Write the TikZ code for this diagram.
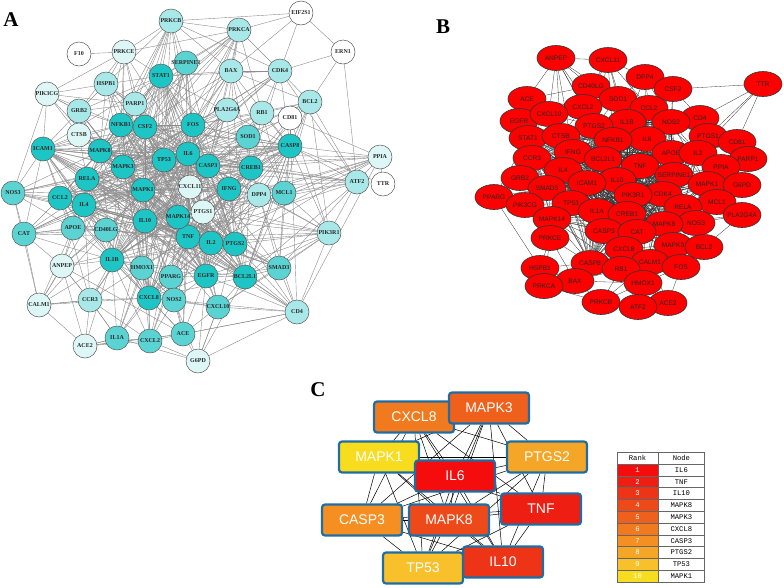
\documentclass[tikz,border=0pt]{standalone}
\usepackage{fontspec}
\setmainfont{Liberation Serif}
\newfontfamily\arialfam{Liberation Sans}
\newfontfamily\simfam{Liberation Mono}
\usepackage{tikz}
\usetikzlibrary{shapes, arrows}
\usetikzlibrary{positioning, backgrounds}
\definecolor{tq1}{HTML}{1EC5C5}
\definecolor{tq2}{HTML}{5CD3D3}
\definecolor{tq3}{HTML}{A8E8E8}
\definecolor{tq4}{HTML}{DDF6F6}
\definecolor{boxblue}{HTML}{1F6EA3}
\definecolor{rk1}{HTML}{F50C0C}
\definecolor{rk2}{HTML}{EE1E12}
\definecolor{rk3}{HTML}{EE3416}
\definecolor{rk4}{HTML}{EE4A19}
\definecolor{rk5}{HTML}{EF601C}
\definecolor{rk6}{HTML}{F17A1F}
\definecolor{rk7}{HTML}{F58F21}
\definecolor{rk8}{HTML}{F6A626}
\definecolor{rk9}{HTML}{F8C02A}
\definecolor{rk10}{HTML}{F8DC1E}
\tikzstyle{gene} = [circle, minimum size = 24, inner sep = 0, draw = black!65,
  line width = 0.5, text = black!85, font = \fontsize{6}{7}\selectfont\bfseries]
\tikzstyle{protein} = [
  ellipse, minimum width = 38, minimum height = 25, inner sep = 0,
  fill = red, draw = black!80, line width = 0.6,
  text = black!85, font = \arialfam\fontsize{6.6}{7}\selectfont
]
\tikzstyle{hub} = [
  rectangle, rounded corners = 3,
  minimum width = 80, minimum height = 31,
  draw = boxblue, line width = 2.2, text = white,
  font = \arialfam\fontsize{14}{15}\selectfont
]
\tikzstyle{cell} = [rectangle, minimum width = 41, minimum height = 11.8,
  inner sep = 0, draw = black!60, line width = 0.4,
  font = \simfam\fontsize{7.2}{8}\selectfont]
\tikzstyle{panel} = [font = \fontsize{21}{21}\selectfont\bfseries]
\tikzstyle{linkA} = [draw = black!45, line width = 0.4]
\tikzstyle{linkB} = [draw = black!80, line width = 0.3]
\tikzstyle{linkC} = [draw = black, line width = 0.5]
\def\hubsA{IL6,TNF,IL10,MAPK8,MAPK3,MAPK1,TP53,FOS,CASP3,STAT1,NFKB1,CSF2,RELA,CCL2,IL4,MAPK14,IL1B,CXCL8,IL2,EGFR,BCL2L1,CREB1,IFNG,CASP8,PTGS2,ICAM1}
\def\hubsB{IL6,TNF,IL10,MAPK8,MAPK3,MAPK1,TP53,CASP3,IL1B,NFKB1,STAT1,IL4,IFNG,PTGS2,CCL2,CXCL8,IL2,APOE,CREB1,ICAM1,RELA,HMOX1,CAT,MAPK14,SERPINE1,CASP8,BCL2L1,SMAD3,IL1A,CDK4,NOS2,CTSB,CCR3,PIK3R1}
\def\topC{IL6,TNF,IL10,MAPK8,MAPK3,CXCL8,CASP3,PTGS2,TP53,MAPK1}

\begin{document}
\begin{tikzpicture}[node distance = 0, x = 1pt, y = -1pt]
    \useasboundingbox (0, 0) rectangle (784, 587);

    \node [panel] (label-A) at (11, 20) {A};
    \node [panel] (label-B) at (443, 27) {B};
    \node [panel] (label-C) at (318, 390) {C};

    \foreach \n/\x/\y in {IL6/188/154, TNF/188/237, IL10/145/221, MAPK8/100/151,
      MAPK3/123/167, MAPK1/143/190, TP53/164/160, FOS/193/125, CASP3/208/166,
      STAT1/161/76, NFKB1/121/125, CSF2/145/127, RELA/87/179, CCL2/60/198,
      IL4/84/205, MAPK14/178/217, IL1B/112/260, CXCL8/149/298, IL2/211/243,
      EGFR/206/276, BCL2L1/245/277, CREB1/251/168, IFNG/229/189, CASP8/290/146,
      PTGS2/235/244, ICAM1/43/149}
      \node [gene, fill = tq1] (a-\n) at (\x, \y) {\makebox[0pt]{\n}};
    \foreach \n/\x/\y in {SERPINE1/186/63, CAT/24/234, NOS3/13/193, APOE/73/228,
      CD40LG/106/230, HMOX1/142/268, PPARG/171/277, NOS2/174/300, CXCL10/218/307,
      MCL1/284/193, SOD1/248/137, ACE/183/334, CXCL2/150/341, IL1A/117/338,
      SMAD3/279/268}
      \node [gene, fill = tq2] (a-\n) at (\x, \y) {\makebox[0pt]{\n}};
    \foreach \n/\x/\y in {PRKCB/171/21, PRKCA/239/30, HSPB1/106/84, GRB2/79/111,
      PARP1/135/104, BAX/231/71, CDK4/280/71, PLA2G4A/227/110, RB1/262/113,
      BCL2/310/102, DPP4/259/195, CCR3/90/300, ATF2/357/182, CD4/297/312,
      PIK3R1/329/233}
      \node [gene, fill = tq3] (a-\n) at (\x, \y) {\makebox[0pt]{\n}};
    \foreach \n/\x/\y in {PRKCE/124/52, PIK3CG/47/94, CTSB/79/135, PTGS1/203/212,
      ANPEP/62/266, CALM1/39/305, ACE2/85/346, G6PD/198/361, PPIA/380/157,
      CXCL11/190/187}
      \node [gene, fill = tq4] (a-\n) at (\x, \y) {\makebox[0pt]{\n}};
    \foreach \n/\x/\y in {F10/79/54, EIF2S1/301/13, ERN1/343/52, CD81/290/118,
      TTR/383/184}
      \node [gene, fill = white] (a-\n) at (\x, \y) {\makebox[0pt]{\n}};

    \begin{scope}[on background layer]
    \foreach \u [count = \i] in \hubsA {
      \foreach \v [count = \j] in \hubsA {
        \ifnum \i < \j \draw [linkA] (a-\u) -- (a-\v); \fi
      }
    }
    \foreach \p/\qs in {
      PRKCB/{PRKCA,PRKCE,SERPINE1,STAT1,NFKB1,CSF2,FOS,IL6,TP53,MAPK8,MAPK3,BAX,PARP1,HSPB1,CDK4},
      PRKCE/{F10,PIK3CG,HSPB1,PARP1,NFKB1,STAT1,PRKCA,MAPK8,GRB2,MAPK3,IL6,CSF2},
      PRKCA/{EIF2S1,BAX,CDK4,SERPINE1,STAT1,FOS,IL6,PLA2G4A,RB1,CSF2,MAPK3,MAPK8,CASP3,TP53,NFKB1},
      EIF2S1/{ERN1,CDK4,BAX,PRKCB},
      ERN1/{CDK4,BCL2,ATF2},
      SERPINE1/{STAT1,FOS,IL6,TP53,MAPK3,MAPK1,TNF,IL10,IL1B,NFKB1,EGFR,PTGS2},
      BAX/{CDK4,BCL2,CASP8,CASP3,TP53,IL6,FOS,MAPK8,MAPK3,CREB1,BCL2L1,MCL1,STAT1},
      CDK4/{BCL2,RB1,CASP8,TP53,IL6,FOS,MAPK3,MAPK1,CREB1,STAT1,ATF2},
      PLA2G4A/{FOS,IL6,TNF,MAPK3,MAPK8,PTGS2,IL1B,CASP3,MAPK1},
      RB1/{CASP8,CREB1,TP53,FOS,MAPK3,IL6,MCL1,BCL2,CASP3},
      BCL2/{CASP8,MCL1,BCL2L1,TP53,CASP3,PIK3R1,ATF2,IL6,TNF,FOS},
      CD81/{CASP8,IL6,TNF,CD4,PPIA,IL2,PIK3R1},
      SOD1/{IL6,TNF,CASP3,CREB1,CASP8,FOS,IL1B,NOS2,CAT,IL10},
      CASP8/{PPIA,ATF2,MCL1,BCL2L1,PIK3R1,SMAD3},
      PPIA/{TTR,ATF2,IL6,TNF,CASP3,CREB1,IL10,MAPK14,MCL1,PTGS2,CD4,IL2},
      TTR/{ATF2,CASP8},
      ATF2/{MCL1,CREB1,MAPK14,MAPK8,MAPK3,MAPK1,TNF,IL6,PIK3R1,BCL2L1,SMAD3},
      MCL1/{IL6,TNF,CASP3,IL10,MAPK14,PIK3R1,SMAD3,BCL2L1,MAPK1,MAPK8},
      DPP4/{IL6,TNF,IFNG,CASP3,CREB1,IL2,PIK3R1,SMAD3,CD4,IL10},
      CXCL11/{IFNG,IL6,TNF,IL10,CXCL10,CCL2,IL4,IL1B,MAPK1,TP53,CASP3,CXCL8,IL2},
      PTGS1/{PTGS2,TNF,IL6,IL10,MAPK14,IL2,EGFR,PIK3R1,SMAD3},
      PIK3R1/{PTGS2,BCL2L1,SMAD3,CD4,IL2,EGFR,TNF,IL6,MAPK14,MAPK1,CXCL10},
      SMAD3/{CD4,BCL2L1,PTGS2,EGFR,IL2,TNF,IL6,CXCL10,MAPK14,IL10,MAPK1},
      CD4/{CXCL10,BCL2L1,EGFR,IL2,TNF,IL6,IL10,PTGS2,ACE,G6PD,CXCL8},
      CXCL10/{EGFR,BCL2L1,PTGS2,NOS2,ACE,G6PD,TNF,IL6,CXCL8,IL10},
      G6PD/{ACE,CXCL2,NOS2,EGFR,CXCL10,IL1A,BCL2L1},
      ACE/{CXCL2,NOS2,EGFR,PPARG,IL6,TNF,IL1B,ACE2,CXCL8,CD4},
      CXCL2/{IL1A,NOS2,CXCL8,IL1B,IL10,TNF,IL6,PPARG,HMOX1},
      IL1A/{ACE2,CXCL8,IL1B,IL6,TNF,CCR3,HMOX1,IL10},
      NOS2/{PPARG,CXCL8,EGFR,HMOX1,IL6,TNF,IL1B,IL10,MAPK1},
      PPARG/{HMOX1,CXCL8,EGFR,TNF,IL6,IL10,MAPK14,IL2},
      HMOX1/{IL1B,CXCL8,IL10,TNF,IL6,MAPK1,MAPK3,NFKB1},
      ACE2/{CCR3,CALM1,ANPEP,IL1A,CXCL2,ACE,IL1B},
      CCR3/{CALM1,ANPEP,IL1B,IL4,CCL2,CXCL8,IL10,TNF,IL6,CXCL2,IL1A},
      CALM1/{CAT,NOS3,ANPEP,CCR3,APOE,IL1B,MAPK1,MAPK3,CXCL8},
      ANPEP/{CAT,APOE,IL4,CD40LG,IL1B,TNF,IL6,ACE,CCR3},
      CAT/{NOS3,APOE,IL4,CCL2,ICAM1,IL6,TNF,IL10,IL1B,MAPK3,MAPK1,CD40LG},
      APOE/{IL4,CCL2,CD40LG,IL10,TNF,IL6,IL1B,MAPK1,ICAM1},
      CD40LG/{IL4,IL10,TNF,IL6,IL1B,MAPK1,ICAM1,CCL2,IL2},
      NOS3/{ICAM1,CCL2,IL4,RELA,MAPK8,MAPK3,IL6,TNF,IL10,MAPK1,APOE},
      GRB2/{PIK3CG,HSPB1,CTSB,MAPK8,MAPK3,MAPK1,STAT1,EGFR,NFKB1,PARP1,ICAM1},
      PIK3CG/{HSPB1,GRB2,CTSB,ICAM1,MAPK8,NFKB1,PARP1,NOS3},
      CTSB/{ICAM1,MAPK8,MAPK3,NFKB1,IL6,TNF,TP53,CASP3,RELA},
      HSPB1/{PARP1,NFKB1,STAT1,MAPK8,MAPK3,TP53,IL6,CASP3,TNF},
      PARP1/{NFKB1,STAT1,CSF2,TP53,CASP3,MAPK8,MAPK3,IL6,TNF}}
      \foreach \q in \qs \draw [linkA] (a-\p) -- (a-\q);
    \end{scope}

    \foreach \n/\x/\y in {ANPEP/556/58, CXCL11/608/60, DPP4/645/77, TTR/763/84,
      CD40LG/591/86, CSF2/673/89, SOD1/618/99, ACE/527/99, CXCL2/583/107,
      CCL2/649/108, EGFR/519/121, CXCL10/549/114, CD4/700/118, IL1B/627/122,
      NOS2/671/122, PTGS2/594/126, PTGS1/708/136, STAT1/528/138, CTSB/561/136,
      IL6/647/139, NFKB1/613/140, CD81/737/142, IFNG/573/152, APOE/671/153,
      IL2/698/153, CCR3/532/158, BCL2L1/603/159, PARP1/748/159, TNF/640/166,
      PPIA/721/167, IL4/563/170, SERPINE1/674/175, GRB2/520/178, IL10/617/180,
      ICAM1/587/183, MAPK1/707/184, G6PD/742/185, SMAD3/547/188, CDK4/663/194,
      PIK3R1/633/195, PPARG/494/197, MCL1/717/202, TP53/571/203, PIK3CG/525/205,
      RELA/683/207, IL1A/597/211, CREB1/627/214, PLA2G4A/742/215, MAPK14/552/219,
      NOS3/696/223, MAPK8/664/224, CASP3/604/231, CAT/637/232, PRKCE/550/238,
      MAPK3/673/245, BCL2/704/247, CXCL8/624/249, CALM1/650/262, CASP8/590/263,
      FOS/681/267, HSPB1/540/268, RB1/621/269, BAX/575/281, HMOX1/643/283,
      PRKCA/544/286, PRKCB/601/302, ACE2/668/303, ATF2/638/307}
      \node [protein] (b-\n) at (\x, \y) {\makebox[0pt]{\n}};

    \begin{scope}[on background layer]
    \foreach \u [count = \i] in \hubsB {
      \foreach \v [count = \j] in \hubsB {
        \ifnum \i < \j \draw [linkB] (b-\u) -- (b-\v); \fi
      }
    }
    \foreach \p/\qs in {
      ANPEP/{CD40LG,CXCL11,CXCL2,ACE,CXCL10,PTGS2,CTSB,IFNG,NFKB1,SOD1},
      CXCL11/{CD40LG,SOD1,DPP4,CCL2,IL1B,PTGS2,CXCL2,NFKB1},
      DPP4/{CSF2,SOD1,CCL2,IL1B,NOS2,IL6},
      CSF2/{TTR,CCL2,NOS2,IL6,CD4,APOE},
      TTR/{CD4,PTGS1,IL2,CD81},
      CD40LG/{SOD1,CXCL2,PTGS2,CXCL10,IL1B,ACE},
      SOD1/{CCL2,IL1B,PTGS2,NFKB1,IL6},
      ACE/{EGFR,CXCL10,STAT1,CXCL2,CCR3},
      EGFR/{STAT1,CXCL10,CCR3,GRB2,CTSB},
      CXCL2/{CXCL10,PTGS2,CTSB},
      CXCL10/{PTGS2,CTSB,STAT1},
      GRB2/{PPARG,SMAD3,CCR3,IL4,STAT1},
      PPARG/{STAT1,PIK3CG,HSPB1,SMAD3},
      PIK3CG/{SMAD3,TP53,MAPK14,PRKCE},
      PRKCE/{HSPB1,CASP8,MAPK14,BAX,PRKCA},
      HSPB1/{PRKCA,BAX,CASP8},
      PRKCA/{BAX,PRKCB},
      BAX/{PRKCB,CASP8,RB1,HMOX1},
      PRKCB/{RB1,HMOX1,ATF2,ACE2,CALM1},
      ATF2/{ACE2,HMOX1,CALM1,RB1},
      ACE2/{FOS,HMOX1,CALM1},
      FOS/{CALM1,MAPK3,BCL2,HMOX1},
      RB1/{CALM1,CXCL8,CASP8},
      CALM1/{MAPK3,CXCL8},
      BCL2/{MAPK3,NOS3,PLA2G4A,MAPK8},
      PLA2G4A/{MCL1,NOS3,RELA,MAPK8},
      MCL1/{NOS3,RELA,MAPK1,G6PD},
      G6PD/{PPIA,PARP1,MAPK1},
      PARP1/{PTGS1,CD81,PPIA,IL2},
      CD81/{PTGS1,IL2,CD4},
      PTGS1/{CD4,IL2,NOS2},
      CD4/{NOS2,IL2,IL6},
      NOS3/{MAPK8,RELA,MAPK3},
      PPIA/{MAPK1,IL2,SERPINE1}}
      \foreach \q in \qs \draw [linkB] (b-\p) -- (b-\q);
    \end{scope}

    \node [hub, fill = rk6] (c-CXCL8) at (414, 417) {CXCL8};
    \node [hub, fill = rk5] (c-MAPK3) at (489, 408) {MAPK3};
    \node [hub, fill = rk10] (c-MAPK1) at (379, 457) {MAPK1};
    \node [hub, fill = rk1] (c-IL6) at (455, 476) {IL6};
    \node [hub, fill = rk8] (c-PTGS2) at (547, 457) {PTGS2};
    \node [hub, fill = rk2] (c-TNF) at (541, 509) {TNF};
    \node [hub, fill = rk7] (c-CASP3) at (362, 520) {CASP3};
    \node [hub, fill = rk4] (c-MAPK8) at (449, 520) {MAPK8};
    \node [hub, fill = rk3] (c-IL10) at (503, 562) {IL10};
    \node [hub, fill = rk9] (c-TP53) at (423, 568) {TP53};

    \begin{scope}[on background layer]
    \foreach \u [count = \i] in \topC {
      \foreach \v [count = \j] in \topC {
        \ifnum \i < \j \draw [linkC] (c-\u) -- (c-\v); \fi
      }
    }
    \end{scope}

    \node [cell] (rank-head) at (637.5, 458) {Rank};
    \node [cell, minimum width = 46, right = 0 of rank-head] (node-head) {Node};
    \foreach \r/\g in {1/IL6, 2/TNF, 3/IL10, 4/MAPK8, 5/MAPK3, 6/CXCL8,
      7/CASP3, 8/PTGS2, 9/TP53, 10/MAPK1} {
      \node [cell, fill = rk\r, text = white] (rank-\r) at (637.5, {458.1 + 11.8*\r}) {\r};
      \node [cell, minimum width = 46, right = 0 of rank-\r] (node-\r) {\g};
    }
  \end{tikzpicture}
\end{document}
